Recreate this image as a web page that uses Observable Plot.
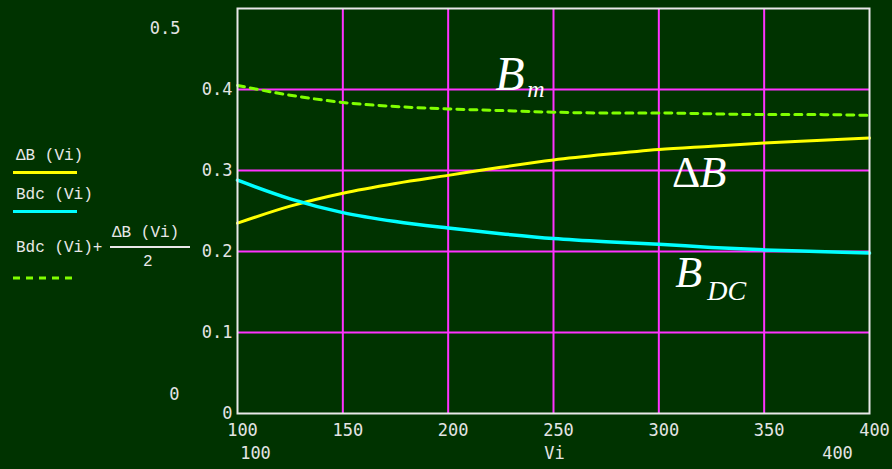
<!DOCTYPE html>
<html>
<head>
<meta charset="utf-8">
<script src="https://cdn.jsdelivr.net/npm/d3@7"></script>
<script src="https://cdn.jsdelivr.net/npm/@observablehq/plot@0.6"></script>
<style>
  html, body { margin: 0; padding: 0; background: #003300; }
  #wrap { position: relative; width: 892px; height: 469px; overflow: hidden; background: #003300; }
  #wrap svg { position: absolute; left: 0; top: 0; }
  .lg { position: absolute; font-family: "Liberation Mono", "DejaVu Sans Mono", monospace; font-size: 16px; color: #e8e8e8; line-height: 20px; white-space: pre; }
  .bar { position: absolute; }
</style>
</head>
<body>
<div id="wrap"></div>
<script>
// ---- data ----
const vi      = [100, 125, 150, 175, 200, 225, 250, 275, 300, 325, 350, 375, 400];
const deltaB  = [0.235, 0.256, 0.272, 0.284, 0.294, 0.304, 0.313, 0.320, 0.326, 0.330, 0.334, 0.337, 0.340];
const bdc     = [0.288, 0.265, 0.248, 0.237, 0.229, 0.222, 0.216, 0.212, 0.209, 0.205, 0.202, 0.200, 0.198];
const bm      = [0.405, 0.393, 0.384, 0.379, 0.376, 0.374, 0.372, 0.371, 0.371, 0.370, 0.369, 0.369, 0.368];

const xTicks = [100, 150, 200, 250, 300, 350, 400];
const xGrid  = [150, 200, 250, 300, 350];
const yTicks = [0, 0.1, 0.2, 0.3, 0.4];
const yGrid  = [0.1, 0.2, 0.3, 0.4];
const yLimitLabels = ["0.5", "0"];
const xRangeLabels = ["100", "Vi", "400"];

const legendLabels = ["\u0394B (Vi)", "Bdc (Vi)", "Bdc (Vi)+", "\u0394B (Vi)", "2"];

// annotation labels (placed in data units)
const annotations = [
  {x: 222.3, y: 0.3994, text: "B",  size: 48, italic: true},
  {x: 237.5, y: 0.3907, text: "m",  size: 24, italic: true},
  {x: 306.3, y: 0.2794, text: "\u0394", size: 44, italic: false},
  {x: 319.3, y: 0.2794, text: "B",  size: 44, italic: true},
  {x: 307.8, y: 0.1558, text: "B",  size: 44, italic: true},
  {x: 323.0, y: 0.1397, text: "DC", size: 28, italic: true}
];

const rows = vi.map((v, i) => ({vi: v, dB: deltaB[i], bdc: bdc[i], bm: bm[i]}));

const textColor = "#e4e4e4";
const gridColor = "#ff33ff";

const marks = [
  Plot.gridX(xGrid, {stroke: gridColor, strokeOpacity: 1, strokeWidth: 2}),
  Plot.gridY(yGrid, {stroke: gridColor, strokeOpacity: 1, strokeWidth: 2}),
  Plot.line(rows, {x: "vi", y: "bm", stroke: "#80ff00", strokeWidth: 3, strokeDasharray: "7,6", curve: "monotone-x"}),
  Plot.line(rows, {x: "vi", y: "dB", stroke: "#ffff00", strokeWidth: 3, curve: "monotone-x"}),
  Plot.line(rows, {x: "vi", y: "bdc", stroke: "#00ffff", strokeWidth: 3.5, curve: "monotone-x"}),
  Plot.frame({stroke: "#e8e8e8", strokeWidth: 2}),
  Plot.axisX(xTicks, {tickSize: 0, tickPadding: 10, dx: 5, fill: textColor, tickFormat: d => String(d), fontSize: 17}),
  Plot.axisY(yTicks, {anchor: "left", tickSize: 0, tickPadding: 5, fill: textColor, tickFormat: d => d === 0 ? "0" : d3.format(".1f")(d), fontSize: 17}),
  // y range limit labels
  Plot.text([yLimitLabels[0]], {frameAnchor: "left", y: [0.5], text: d => d, textAnchor: "end", dx: -57, dy: 20.5, fill: textColor, fontSize: 17}),
  Plot.text([yLimitLabels[1]], {frameAnchor: "left", y: [0], text: d => d, textAnchor: "end", dx: -58, dy: -19, fill: textColor, fontSize: 17}),
  // x range labels
  Plot.text([xRangeLabels[0]], {x: [100], frameAnchor: "bottom", text: d => d, dx: 18, dy: 45, fill: textColor, fontSize: 17}),
  Plot.text([xRangeLabels[1]], {x: [250], frameAnchor: "bottom", text: d => d, dx: 1, dy: 45, fill: textColor, fontSize: 17}),
  Plot.text([xRangeLabels[2]], {x: [400], frameAnchor: "bottom", text: d => d, dx: -32, dy: 45, fill: textColor, fontSize: 17}),
  // annotations
  ...annotations.map(a => Plot.text([a], {
    x: "x", y: "y", text: "text", textAnchor: "start", lineAnchor: "bottom",
    fill: "#ffffff", fontSize: a.size, fontStyle: a.italic ? "italic" : "normal",
    fontFamily: "Liberation Serif, Times New Roman, serif"
  }))
];

const chart = Plot.plot({
  width: 892,
  height: 469,
  marginLeft: 237,
  marginRight: 23,
  marginTop: 8,
  marginBottom: 56,
  x: {domain: [100, 400], axis: null},
  y: {domain: [0, 0.5], axis: null},
  style: {background: "#003300", color: textColor, fontFamily: "DejaVu Sans Mono, monospace", fontSize: "17px"},
  marks
});

const wrap = document.getElementById("wrap");
wrap.appendChild(chart);

// ---- legend (HTML overlay) ----
function addText(txt, left, centerY) {
  const d = document.createElement("div");
  d.className = "lg";
  d.textContent = txt;
  d.style.left = left + "px";
  d.style.top = (centerY - 10) + "px";
  wrap.appendChild(d);
}
function addBar(left, top, w, h, color) {
  const d = document.createElement("div");
  d.className = "bar";
  d.style.left = left + "px"; d.style.top = top + "px";
  d.style.width = w + "px"; d.style.height = h + "px";
  d.style.background = color;
  wrap.appendChild(d);
}
addText(legendLabels[0], 16, 156);
addBar(13, 171, 64, 3, "#ffff00");
addText(legendLabels[1], 16, 195);
addBar(13, 210, 64, 3, "#00ffff");
addText(legendLabels[2], 16, 248);
addText(legendLabels[3], 112, 233);
addBar(110, 246, 80, 2, "#e8e8e8");
addText(legendLabels[4], 143, 262);
const ns = "http://www.w3.org/2000/svg";
const ls = document.createElementNS(ns, "svg");
ls.setAttribute("width", 70); ls.setAttribute("height", 6);
ls.style.position = "absolute"; ls.style.left = "13px"; ls.style.top = "275px";
const ln = document.createElementNS(ns, "line");
ln.setAttribute("x1", 0); ln.setAttribute("x2", 64); ln.setAttribute("y1", 3); ln.setAttribute("y2", 3);
ln.setAttribute("stroke", "#80ff00"); ln.setAttribute("stroke-width", 3); ln.setAttribute("stroke-dasharray", "7,6");
ls.appendChild(ln);
wrap.appendChild(ls);
</script>
</body>
</html>
